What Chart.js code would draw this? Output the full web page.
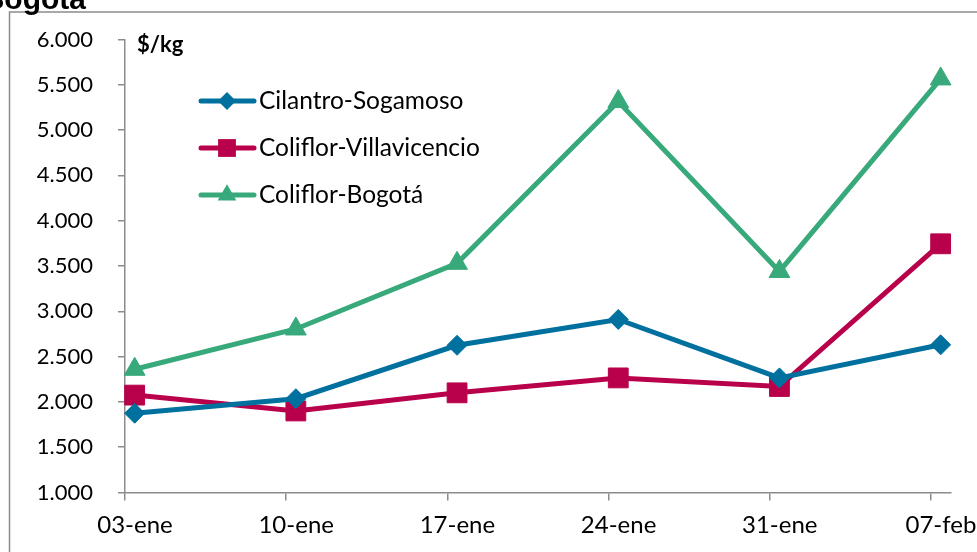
<!DOCTYPE html>
<html>
<head>
<meta charset="utf-8">
<script src="https://cdn.jsdelivr.net/npm/chart.js"></script>
<style>
    html, body { margin: 0; padding: 0; background: #fff; }
    #wrap { width: 977px; height: 552px; }
</style>
</head>
<body>
<div id="wrap"><canvas id="priceChart" width="977" height="552"></canvas></div>
<script>
// fechas y precios ($/kg)
const weeks = ['03-ene', '10-ene', '17-ene', '24-ene', '31-ene', '07-feb'];
const cilantroSogamoso = [1875, 2035, 2625, 2910, 2265, 2630];
const coliflorVillavicencio = [2075, 1900, 2100, 2265, 2170, 3745];
const coliflorBogota = [2360, 2805, 3530, 5315, 3440, 5565];
const yTicks = [1000, 1500, 2000, 2500, 3000, 3500, 4000, 4500, 5000, 5500, 6000];

const seriesNames = ['Cilantro-Sogamoso', 'Coliflor-Villavicencio', 'Coliflor-Bogotá'];
const seriesColors = ['#00709f', '#b9004b', '#38a97a'];
const seriesMarkers = ['rectRot', 'rect', 'triangle'];
const markerRadius = [10, 14, 12];

// points sit a little right of the tick marks, like the excel date axis
const POINT_SHIFT = 0.06;

const toPoints = (vals) => vals.map((v, i) => ({x: i + POINT_SHIFT, y: v}));

const fmt = (v) => (v / 1000).toFixed(3);

function drawMarker(ctx, style, x, y, r, color) {
    ctx.fillStyle = color;
    ctx.beginPath();
    if (style === 'rectRot') {
        ctx.moveTo(x, y - r); ctx.lineTo(x + r, y); ctx.lineTo(x, y + r); ctx.lineTo(x - r, y);
    } else if (style === 'rect') {
        let s = r * Math.SQRT1_2;
        ctx.rect(x - s, y - s, 2 * s, 2 * s);
    } else {
        ctx.moveTo(x, y - r);
        ctx.lineTo(x + r * Math.sin(Math.PI * 2 / 3), y + r / 2);
        ctx.lineTo(x - r * Math.sin(Math.PI * 2 / 3), y + r / 2);
    }
    ctx.closePath();
    ctx.fill();
}

const decorations = {
    id: 'decorations',
    afterDraw(chart) {
        const ctx = chart.ctx;
        ctx.save();
        // frame of the excel chart
        ctx.strokeStyle = '#8c8c8c';
        ctx.lineWidth = 1.5;
        ctx.strokeRect(9.5, 12, 1100, 700);

        // cropped title
        ctx.fillStyle = '#000';
        ctx.font = 'bold 30px "Liberation Sans", Arial, sans-serif';
        ctx.textAlign = 'right';
        ctx.textBaseline = 'alphabetic';
        ctx.fillText('Bogotá', 86, 9);

        // unit label
        ctx.font = 'bold 22px Lato, sans-serif';
        ctx.textAlign = 'left';
        ctx.textBaseline = 'middle';
        ctx.fillText('$/kg', 137, 45);

        // legend: line sample with marker
        chart.data.datasets.forEach((ds, i) => {
            let y = 101 + i * 47;
            ctx.strokeStyle = ds.borderColor;
            ctx.lineWidth = 5;
            ctx.lineCap = 'round';
            ctx.beginPath();
            ctx.moveTo(201, y);
            ctx.lineTo(254, y);
            ctx.stroke();
            drawMarker(ctx, ds.pointStyle, 227, y, ds.pointRadius * 0.9, ds.borderColor);
            ctx.fillStyle = '#000';
            ctx.font = '24.5px Lato, sans-serif';
            ctx.textAlign = 'left';
            ctx.textBaseline = 'middle';
            ctx.fillText(ds.label, 259, y);
        });
        ctx.restore();
    }
};

const allSeries = [cilantroSogamoso, coliflorVillavicencio, coliflorBogota];

let priceChart = new Chart(document.getElementById('priceChart'), {
    type: 'line',
    data: {
        datasets: allSeries.map((vals, i) => ({
            label: seriesNames[i],
            data: toPoints(vals),
            borderColor: seriesColors[i],
            backgroundColor: seriesColors[i],
            pointBackgroundColor: seriesColors[i],
            pointBorderColor: seriesColors[i],
            pointBorderWidth: 1,
            pointStyle: seriesMarkers[i],
            pointRadius: markerRadius[i],
            borderWidth: 5,
            fill: false,
            tension: 0,
            clip: false
        }))
    },
    plugins: [decorations],
    options: {
        responsive: false,
        animation: false,
        layout: {
            padding: {top: 39.5, right: 25, left: 0, bottom: 0}
        },
        plugins: {
            legend: {display: false},
            tooltip: {enabled: false}
        },
        scales: {
            x: {
                type: 'linear',
                min: 0,
                max: 5.12,
                afterBuildTicks: (axis) => {
                    axis.ticks = weeks.map((w, i) => ({value: i}));
                },
                afterFit: (axis) => { axis.height = 59.5; },
                grid: {
                    drawOnChartArea: false,
                    drawTicks: true,
                    tickLength: 8,
                    color: '#8c8c8c',
                    lineWidth: 1.5
                },
                border: {color: '#8c8c8c', width: 1.5},
                ticks: {
                    callback: (v) => weeks[v],
                    labelOffset: 10,
                    padding: 10,
                    maxRotation: 0,
                    autoSkip: false,
                    color: '#000',
                    font: {family: 'Lato', size: 24}
                }
            },
            y: {
                min: 1000,
                max: 6000,
                afterBuildTicks: (axis) => {
                    axis.ticks = yTicks.map(v => ({value: v}));
                },
                afterFit: (axis) => { axis.width = 125; },
                grid: {
                    drawOnChartArea: false,
                    drawTicks: true,
                    tickLength: 7,
                    color: '#8c8c8c',
                    lineWidth: 1.5
                },
                border: {color: '#8c8c8c', width: 1.5},
                ticks: {
                    callback: (v) => fmt(v),
                    padding: 25,
                    color: '#000',
                    font: {family: 'Lato', size: 22}
                }
            }
        }
    }
});
</script>
</body>
</html>
